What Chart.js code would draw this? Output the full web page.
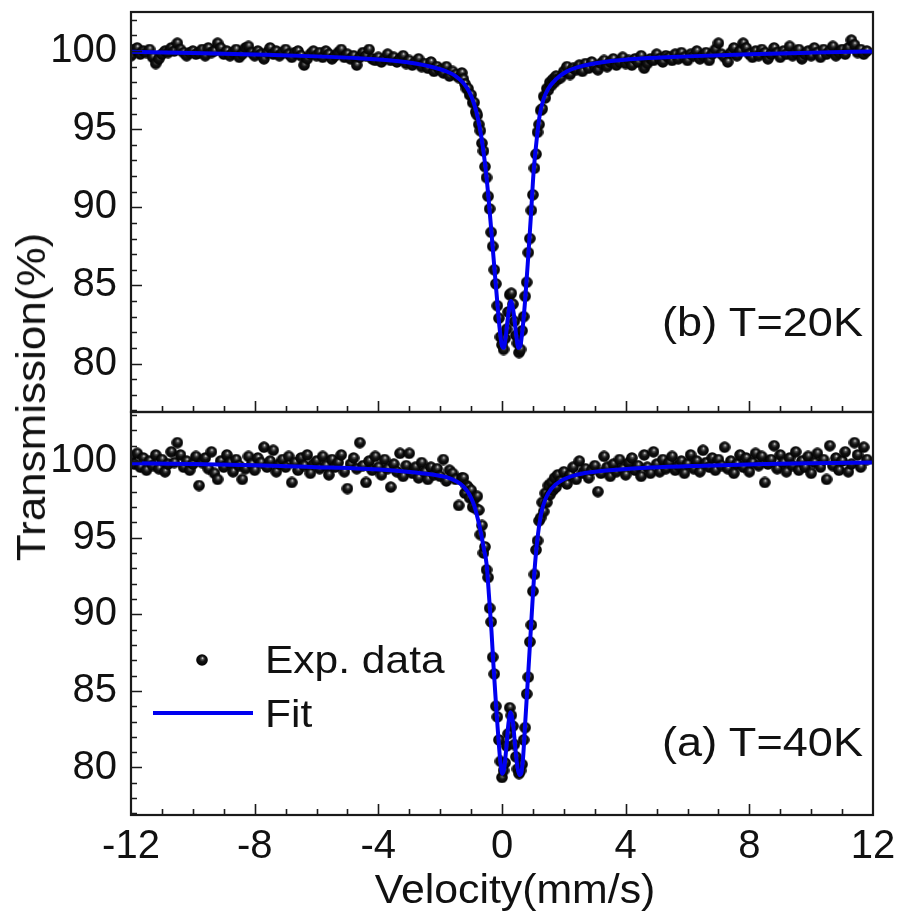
<!DOCTYPE html>
<html>
<head>
<meta charset="utf-8">
<script src="https://cdn.jsdelivr.net/npm/chart.js@4.4.1/dist/chart.umd.min.js"></script>
<style>
  html, body { margin: 0; padding: 0; background: #fff; }
  #wrap { position: relative; width: 901px; height: 918px; overflow: hidden;
          font-family: 'Liberation Sans', Arial, sans-serif; color: #111; }
  #topBox { position: absolute; left: 0; top: 0; width: 901px; height: 420px; }
  #botBox { position: absolute; left: 0; top: 400px; width: 901px; height: 518px; }
  .lbl { position: absolute; white-space: nowrap; line-height: 1; }
</style>
</head>
<body>
<div id="wrap">
  <div id="topBox"><canvas id="chartTop"></canvas></div>
  <div id="botBox"><canvas id="chartBot"></canvas></div>

  <div class="lbl" style="font-size:40px;left:31px;top:397px;height:40px;transform:translate(-50%,-50%) rotate(-90deg) scaleX(1.1);">Transmission(%)</div>
  <div class="lbl" style="font-size:40px;left:515px;top:869px;transform:translateX(-50%) scaleX(1.07);">Velocity(mm/s)</div>
  <div class="lbl" style="font-size:41px;left:863px;top:302px;transform-origin:right center;transform:translateX(-100%) scaleX(1.1);">(b) T=20K</div>
  <div class="lbl" style="font-size:41px;left:863px;top:722px;transform-origin:right center;transform:translateX(-100%) scaleX(1.1);">(a) T=40K</div>
  <div class="lbl" style="font-size:39px;left:265px;top:640px;transform-origin:left center;transform:scaleX(1.09);">Exp. data</div>
  <div class="lbl" style="font-size:39px;left:265px;top:694px;transform-origin:left center;transform:scaleX(1.09);">Fit</div>
</div>

<script>
// velocity channels (mm/s), denser through the doublet
const velocity = [
  -12.0,-11.9,-11.8,-11.7,-11.6,-11.5,-11.4,-11.3,-11.2,-11.1,
  -11.0,-10.9,-10.8,-10.7,-10.6,-10.5,-10.4,-10.3,-10.2,-10.1,
  -10.0,-9.9,-9.8,-9.7,-9.6,-9.5,-9.4,-9.3,-9.2,-9.1,
  -9.0,-8.9,-8.8,-8.7,-8.6,-8.5,-8.4,-8.3,-8.2,-8.1,
  -8.0,-7.9,-7.8,-7.7,-7.6,-7.5,-7.4,-7.3,-7.2,-7.1,
  -7.0,-6.9,-6.8,-6.7,-6.6,-6.5,-6.4,-6.3,-6.2,-6.1,
  -6.0,-5.9,-5.8,-5.7,-5.6,-5.5,-5.4,-5.3,-5.2,-5.1,
  -5.0,-4.9,-4.8,-4.7,-4.6,-4.5,-4.4,-4.3,-4.2,-4.1,
  -4.0,-3.9,-3.8,-3.7,-3.6,-3.5,-3.4,-3.3,-3.2,-3.1,
  -3.0,-2.9,-2.8,-2.7,-2.6,-2.5,-2.4,-2.3,-2.2,-2.1,
  -2.0,-1.9,-1.8,-1.7,-1.6,-1.5,-1.4,-1.3,
  -1.25,-1.20,-1.15,-1.10,-1.05,-1.00,-0.95,-0.90,-0.85,-0.80,
  -0.75,-0.70,-0.65,-0.60,-0.55,-0.50,-0.45,-0.40,-0.35,-0.30,
  -0.25,-0.20,-0.15,-0.10,-0.05,0.00,0.05,0.10,0.15,0.20,
  0.25,0.30,0.35,0.40,0.45,0.50,0.55,0.60,0.65,0.70,
  0.75,0.80,0.85,0.90,0.95,1.00,1.05,1.10,1.15,1.20,
  1.25,1.30,1.35,1.40,1.45,1.50,1.55,1.60,1.65,1.70,
  1.75,1.80,
  1.9,2.0,2.1,2.2,2.3,2.4,2.5,2.6,2.7,2.8,
  2.9,3.0,3.1,3.2,3.3,3.4,3.5,3.6,3.7,3.8,
  3.9,4.0,4.1,4.2,4.3,4.4,4.5,4.6,4.7,4.8,
  4.9,5.0,5.1,5.2,5.3,5.4,5.5,5.6,5.7,5.8,
  5.9,6.0,6.1,6.2,6.3,6.4,6.5,6.6,6.7,6.8,
  6.9,7.0,7.1,7.2,7.3,7.4,7.5,7.6,7.7,7.8,
  7.9,8.0,8.1,8.2,8.3,8.4,8.5,8.6,8.7,8.8,
  8.9,9.0,9.1,9.2,9.3,9.4,9.5,9.6,9.7,9.8,
  9.9,10.0,10.1,10.2,10.3,10.4,10.5,10.6,10.7,10.8,
  10.9,11.0,11.1,11.2,11.3,11.4,11.5,11.6,11.7,11.8
];

// (b) T=20K, measured transmission (%)
const trans20K = [
  99.7,100.1,100.2,99.8,100.0,99.9,100.1,99.6,99.2,99.5,
  99.8,100.0,99.9,100.2,100.0,100.5,100.1,99.9,99.7,99.9,
  100.0,99.8,99.9,100.1,99.7,100.2,99.9,100.0,100.5,100.2,
  99.8,100.0,99.7,99.9,100.1,99.6,99.8,100.2,100.3,99.9,
  99.7,100.0,99.8,99.5,99.9,100.2,99.8,100.0,99.7,99.9,
  100.1,99.8,99.6,99.9,100.0,99.7,99.1,99.5,99.8,100.0,
  99.7,99.9,99.6,100.0,99.8,99.5,99.7,99.9,100.1,99.6,
  99.8,99.5,99.7,99.1,99.6,99.9,99.7,100.1,99.5,99.4,
  99.6,99.3,99.5,99.8,99.4,99.6,99.3,99.5,99.7,99.2,
  99.4,99.1,99.3,99.5,99.0,99.2,98.9,99.3,98.7,99.0,
  98.8,98.6,99.0,98.4,98.7,98.5,98.3,98.6,
  98.2,97.9,97.6,97.6,97.2,97.2,96.7,96.7,96.1,95.9,
  95.3,94.9,94.1,93.6,92.6,91.9,90.7,89.9,88.4,87.5,
  86.0,85.1,83.7,82.9,81.7,81.2,80.9,81.6,82.2,83.3,
  84.4,84.5,83.8,82.7,81.8,81.3,80.7,80.9,82.1,83.0,
  84.3,85.2,87.1,88.0,89.8,90.8,92.5,93.4,94.8,95.3,
  96.2,96.3,97.1,97.0,97.6,97.5,98.0,97.8,98.2,98.0,
  98.4,98.2,
  98.3,98.7,99.0,98.5,98.9,98.8,99.1,98.7,99.2,98.9,
  99.3,99.0,98.8,99.2,99.4,99.0,99.3,99.5,99.1,99.3,
  99.6,99.2,99.4,99.1,99.5,99.3,99.7,98.9,99.2,99.5,
  99.4,99.8,99.5,99.3,99.7,99.6,99.4,99.8,99.5,99.9,
  99.6,99.4,99.8,99.7,100.0,99.5,99.7,99.9,99.4,99.8,
  100.1,100.5,99.8,99.6,99.3,99.9,100.2,99.7,100.0,100.5,
  100.2,99.8,99.6,100.0,99.7,100.1,99.9,99.5,99.8,100.2,
  99.9,99.6,100.0,99.8,100.3,99.7,99.9,100.1,99.5,99.8,
  100.0,99.7,100.2,99.9,99.6,100.1,99.8,100.0,100.3,99.7,
  99.9,100.1,99.8,100.2,100.7,100.4,99.9,100.1,99.8,100.0
];

// (a) T=40K, measured transmission (%)
const trans40K = [
  100.3,99.8,100.5,99.6,100.2,99.4,100.0,99.7,100.4,99.5,
  100.1,99.3,99.8,100.6,99.9,101.2,100.4,99.6,100.0,99.4,
  99.8,100.3,98.4,99.9,100.2,99.5,100.6,99.2,98.8,100.0,
  99.6,100.4,99.9,99.3,100.1,99.7,98.8,99.5,100.3,99.8,
  99.4,100.2,99.9,100.9,99.6,100.0,100.7,99.3,99.8,100.1,
  99.6,100.3,98.6,99.9,99.4,100.2,99.7,100.4,99.2,99.8,
  100.0,99.5,100.3,99.7,99.1,100.1,99.6,99.9,100.4,99.3,
  98.2,99.8,100.2,99.5,101.2,99.7,98.6,100.0,99.4,100.3,
  99.6,99.1,100.1,99.5,98.3,99.8,99.3,100.5,99.0,99.7,
  100.5,99.2,99.6,98.9,99.9,99.3,98.8,99.6,99.1,99.5,
  99.0,100.1,98.7,99.4,99.2,98.8,97.1,98.9,
  98.9,97.9,98.4,98.3,97.6,98.1,97.0,97.5,96.9,97.7,
  96.8,95.2,95.8,94.0,94.4,92.9,92.4,90.4,89.5,87.2,
  86.1,84.0,83.3,81.8,80.4,79.35,79.8,80.3,81.4,82.2,
  83.9,83.4,82.7,81.5,80.7,79.9,79.6,79.8,80.2,81.8,
  82.6,84.8,85.9,88.2,89.3,91.5,92.6,94.2,94.8,96.1,
  96.3,97.3,96.7,97.9,97.3,98.4,97.8,98.6,98.1,98.9,
  98.3,99.1,
  98.7,99.3,98.5,99.1,99.6,98.8,100.0,99.2,99.5,98.9,
  99.4,99.7,98.0,99.2,100.3,99.6,99.0,99.8,99.3,100.1,
  99.5,99.1,99.9,100.2,99.4,99.7,99.0,100.4,99.6,99.2,
  100.6,99.8,99.3,100.1,99.5,99.9,100.3,99.4,99.7,100.0,
  99.2,99.8,100.4,99.5,100.0,99.3,100.7,99.9,99.6,100.2,
  99.4,100.1,99.7,100.9,99.5,100.0,99.2,99.8,100.4,99.6,
  100.2,99.3,99.9,100.5,99.7,100.3,98.6,99.8,100.1,101.0,
  99.5,100.4,99.9,99.3,100.2,99.7,100.6,99.4,100.0,99.6,
  100.3,99.2,99.9,100.5,99.6,100.1,98.8,101.0,99.7,100.2,
  99.4,100.0,100.6,99.3,99.8,101.2,100.4,99.6,100.9,100.1
];

// fitted curves
const fitVel20K = [-12, -10, -8, -6, -4.5, -3.5, -2.8, -2.2, -1.8, -1.5,
  -1.25, -1.05, -0.9, -0.78, -0.66, -0.55, -0.45, -0.35, -0.25, -0.16,
  -0.08, 0.0, 0.06, 0.12, 0.2, 0.29, 0.38, 0.46, 0.53, 0.59,
  0.67, 0.75, 0.84, 0.93, 1.02, 1.12, 1.22, 1.34, 1.5, 1.75,
  2.1, 2.6, 3.3, 4.5, 6, 8, 10, 12];
const fit20K = [99.95, 99.88, 99.78, 99.66, 99.52, 99.38, 99.2, 98.95, 98.7, 98.4,
  97.95, 97.35, 96.6, 95.7, 94.4, 92.8, 90.9, 88.6, 86.2, 84.1,
  82.3, 81.1, 81.0, 81.7, 83.1, 84.0, 83.2, 81.8, 81.0, 81.1,
  82.3, 84.1, 86.6, 89.3, 92.2, 94.3, 95.9, 96.9, 97.6, 98.2,
  98.7, 99.05, 99.3, 99.52, 99.66, 99.8, 99.9, 99.98];

const fitVel40K = [-12, -10, -8, -6, -4.5, -3.5, -2.8, -2.2, -1.8, -1.5,
  -1.25, -1.05, -0.9, -0.78, -0.68, -0.58, -0.5, -0.41, -0.34, -0.28,
  -0.2, -0.12, -0.05, 0.01, 0.07, 0.14, 0.21, 0.28, 0.35, 0.43,
  0.5, 0.57, 0.62, 0.68, 0.75, 0.85, 0.95, 1.05, 1.15, 1.26,
  1.4, 1.6, 1.9, 2.4, 3.2, 4.8, 6.5, 8.5, 10, 12];
const fit40K = [99.85, 99.8, 99.72, 99.6, 99.5, 99.38, 99.25, 99.1, 98.95, 98.7,
  98.35, 97.8, 97.1, 96.2, 95.3, 94.2, 93.3, 90.9, 88.9, 86.8,
  84.3, 82.0, 80.3, 79.6, 79.9, 81.3, 82.9, 83.6, 83.0, 81.3,
  80.0, 79.5, 79.6, 80.6, 82.9, 86.2, 89.6, 92.8, 95.0, 96.5,
  97.5, 98.2, 98.7, 99.1, 99.35, 99.58, 99.7, 99.8, 99.85, 99.9];

const xTicks = [-12, -8, -4, 0, 4, 8, 12];
const yTicks = [80, 85, 90, 95, 100];

const FONT = "'Liberation Sans', Arial, sans-serif";
const FIT_BLUE = '#0000f0';

// little shaded ball used as the point marker
function makeBall(d) {
  const c = document.createElement('canvas');
  c.width = d; c.height = d;
  const g = c.getContext('2d');
  const r = d / 2;
  const grad = g.createRadialGradient(r + 0.6, r - 2, 0.2, r, r, r);
  grad.addColorStop(0, '#e6e6e6');
  grad.addColorStop(0.18, '#5a5a5a');
  grad.addColorStop(0.45, '#141414');
  grad.addColorStop(1, '#000');
  g.fillStyle = grad;
  g.beginPath();
  g.arc(r, r, r - 0.2, 0, Math.PI * 2);
  g.fill();
  return c;
}
const ball = makeBall(12);

// frame + inward ticks (major and minor), legend symbols on the lower panel
const framePlugin = {
  id: 'frame',
  afterDraw(chart, args, opts) {
    const { ctx, chartArea: a, scales: { x, y } } = chart;
    ctx.save();
    ctx.strokeStyle = '#1a1a1a';
    ctx.lineWidth = 1.6;
    ctx.beginPath();
    for (let v = Math.ceil(y.min); v <= y.max; v++) {
      const py = Math.round(y.getPixelForValue(v)) + 0.5;
      const len = v % 5 === 0 ? 11 : 6;
      ctx.moveTo(a.left, py);
      ctx.lineTo(a.left + len, py);
    }
    for (let v = Math.ceil(x.min) + 1; v < x.max; v++) {
      const px = Math.round(x.getPixelForValue(v)) + 0.5;
      const len = v % 4 === 0 ? 11 : 6;
      ctx.moveTo(px, a.bottom);
      ctx.lineTo(px, a.bottom - len);
    }
    ctx.stroke();
    ctx.lineWidth = 2.2;
    ctx.strokeRect(a.left, a.top, a.right - a.left, a.bottom - a.top);

    if (opts.legend) {
      ctx.drawImage(ball, 202 - ball.width / 2, 260 - ball.height / 2);
      ctx.strokeStyle = FIT_BLUE;
      ctx.lineWidth = 4;
      ctx.beginPath();
      ctx.moveTo(153, 313);
      ctx.lineTo(253, 313);
      ctx.stroke();
    }
    ctx.restore();
  }
};

function buildPanel(canvasId, vel, trans, fitVel, fitVals, yMin, yMax, opts) {
  const points = vel.map((v, i) => ({ x: v, y: trans[i] }));
  const fitPts = fitVel.map((v, i) => ({ x: v, y: fitVals[i] }));

  return new Chart(document.getElementById(canvasId), {
    type: 'scatter',
    data: {
      datasets: [
        {
          type: 'line',
          label: 'Fit',
          data: fitPts,
          borderColor: FIT_BLUE,
          borderWidth: 4,
          pointRadius: 0,
          fill: false,
          cubicInterpolationMode: 'monotone',
          order: 0
        },
        {
          label: 'Exp. data',
          data: points,
          pointStyle: ball,
          pointRadius: 6,
          order: 1
        }
      ]
    },
    options: {
      responsive: true,
      maintainAspectRatio: false,
      animation: false,
      events: [],
      layout: { padding: opts.padding },
      plugins: {
        legend: { display: false },
        tooltip: { enabled: false },
        frame: { legend: opts.legend }
      },
      scales: {
        x: {
          type: 'linear',
          min: -12,
          max: 12,
          grid: { display: false, drawTicks: false },
          border: { display: false },
          afterBuildTicks: (s) => { s.ticks = xTicks.map(v => ({ value: v })); },
          afterFit: (s) => {
            s.height = opts.xHeight;
            s.paddingLeft = 0;
            s.paddingRight = 0;
          },
          ticks: {
            display: opts.showX,
            autoSkip: false,
            maxRotation: 0,
            padding: 8,
            color: '#111',
            font: { family: FONT, size: 40 },
            callback: (v) => String(v)
          }
        },
        y: {
          type: 'linear',
          min: yMin,
          max: yMax,
          grid: { display: false, drawTicks: false },
          border: { display: false },
          afterBuildTicks: (s) => { s.ticks = yTicks.map(v => ({ value: v })); },
          afterFit: (s) => {
            s.width = 131;
            s.paddingTop = 0;
            s.paddingBottom = 0;
          },
          ticks: {
            padding: 14,
            color: '#111',
            font: { family: FONT, size: 40 },
            callback: (v) => String(v)
          }
        }
      }
    },
    plugins: [framePlugin]
  });
}

buildPanel('chartTop', velocity, trans20K, fitVel20K, fit20K, 76.9, 102.5, {
  padding: { top: 12, right: 28, bottom: 8, left: 0 },
  xHeight: 0,
  showX: false,
  legend: false
});

buildPanel('chartBot', velocity, trans40K, fitVel40K, fit40K, 76.9, 103.2, {
  padding: { top: 12, right: 28, bottom: 0, left: 0 },
  xHeight: 103,
  showX: true,
  legend: true
});
</script>
</body>
</html>
